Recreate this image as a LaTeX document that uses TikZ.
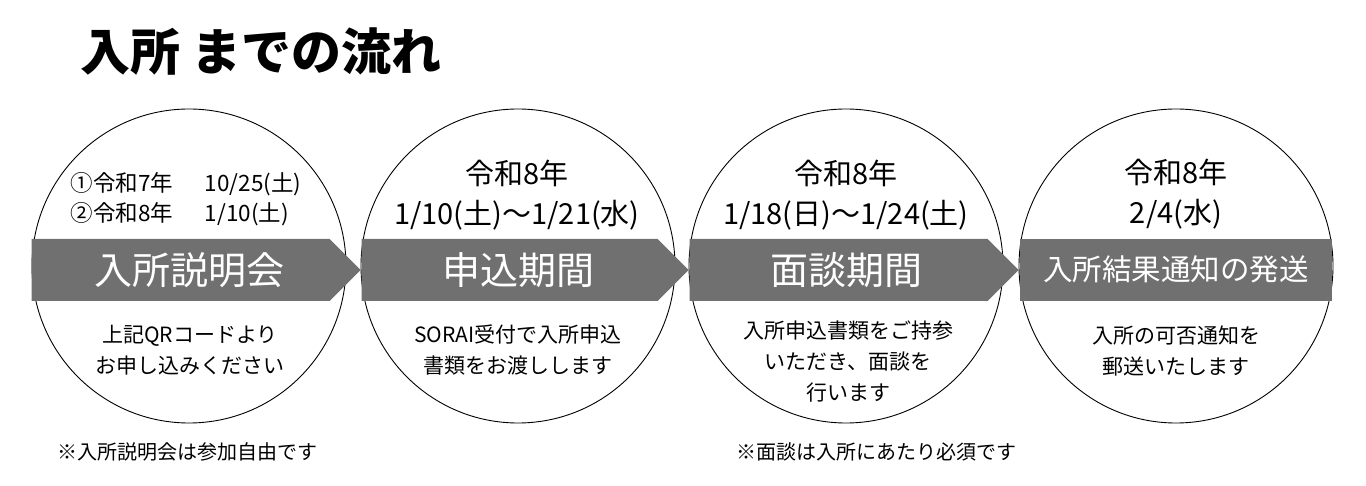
\documentclass[tikz,border=0pt]{standalone}
\usepackage{fontspec}
\setmainfont{Noto Sans CJK JP}
\usetikzlibrary{positioning}
\definecolor{bandgray}{RGB}{112,112,112}

\begin{document}
\begin{tikzpicture}[
    x=1pt, y=-1pt,
    stepcircle/.style={circle, draw, line width=0.9pt, minimum size=314pt, inner sep=0pt},
    band/.style={fill=bandgray},
    bandtext/.style={text=white, inner sep=0pt, font=\fontsize{38}{46}\selectfont},
    datetext/.style={align=center, inner sep=0pt, font=\fontsize{29}{40}\selectfont},
    smalldate/.style={align=left, inner sep=0pt, font=\fontsize{22.5}{30}\selectfont},
    remark/.style={align=center, inner sep=0pt, font=\fontsize{21}{31}\selectfont},
    footremark/.style={anchor=west, inner sep=0pt, font=\fontsize{20}{24}\selectfont}
  ]
    \useasboundingbox (0,0) rectangle (1366,486);
    \node[anchor=west, inner sep=0pt, font=\fontsize{50}{60}\selectfont\bfseries] (title) at (80,52) {入所 までの流れ};

    % steps
    \node[stepcircle] (c1) at (189,266) {};
    \node[stepcircle] (c2) at (518,266) {};
    \node[stepcircle] (c3) at (846,266) {};
    \node[stepcircle] (c4) at (1176,266) {};

    % arrows between the steps
    \fill[band] ([yshift=27pt]c1.west) -- ([xshift=-31pt,yshift=27pt]c2.west) -- ([yshift=-4pt]c2.west)
      -- ([xshift=-31pt,yshift=-35pt]c2.west) -- ([yshift=-35pt]c1.west) -- cycle;
    \fill[band] ([xshift=1pt,yshift=27pt]c2.west) -- ([xshift=-31pt,yshift=27pt]c3.west) -- ([yshift=-4pt]c3.west)
      -- ([xshift=-31pt,yshift=-35pt]c3.west) -- ([xshift=1pt,yshift=-35pt]c2.west) -- cycle;
    \fill[band] ([xshift=1pt,yshift=27pt]c3.west) -- ([xshift=-31pt,yshift=27pt]c4.west) -- ([yshift=-4pt]c4.west)
      -- ([xshift=-31pt,yshift=-35pt]c4.west) -- ([xshift=1pt,yshift=-35pt]c3.west) -- cycle;
    \fill[band] ([xshift=1pt,yshift=27pt]c4.west) rectangle ([xshift=-1pt,yshift=-35pt]c4.east);

    \node[bandtext] (b1) at (189,270) {入所説明会};
    \node[bandtext] (b2) at (518,270) {申込期間};
    \node[bandtext] (b3) at (846,270) {面談期間};
    \node[bandtext, font=\fontsize{29.5}{36}\selectfont] (b4) at (1176,269) {入所結果通知の発送};

    % dates
    \node[smalldate] (d1) at (186,199) {①令和7年\hspace{32pt}10/25(土)\\②令和8年\hspace{32pt}1/10(土)};
    \node[datetext] (d2) at (517,195) {令和8年\\1/10(土)～1/21(水)};
    \node[datetext] (d3) at (846,195) {令和8年\\1/18(日)～1/24(土)};
    \node[datetext] (d4) at (1176,194) {令和8年\\2/4(水)};

    % what happens
    \node[remark] (r1) at (190,350) {上記QRコードより\\お申し込みください};
    \node[remark] (r2) at (518,350) {SORAI受付で入所申込\\書類をお渡しします};
    \node[remark] (r3) at (848,362) {入所申込書類をご持参\\いただき、面談を\\行います};
    \node[remark] (r4) at (1176,351) {入所の可否通知を\\郵送いたします};

    \node[footremark] (n1) at (57,452) {※入所説明会は参加自由です};
    \node[footremark] (n2) at (736,452) {※面談は入所にあたり必須です};
  \end{tikzpicture}
\end{document}
